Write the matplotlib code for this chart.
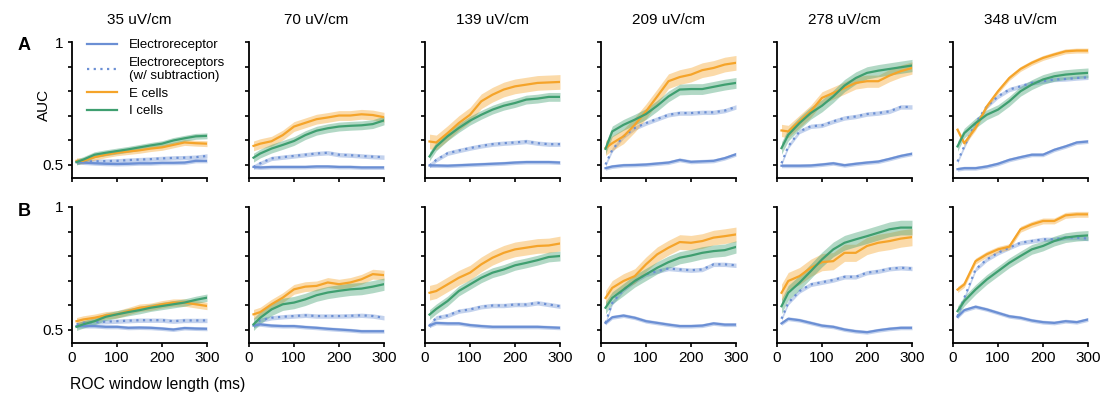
import numpy as np
import matplotlib
matplotlib.use("Agg")
import matplotlib.pyplot as plt

plt.rcParams['font.family'] = ['Liberation Sans', 'DejaVu Sans']

# ROC window length (ms)
x = [10, 25, 50, 75, 100, 125, 150, 175, 200, 225, 250, 275, 300]
titles = ['35 uV/cm', '70 uV/cm', '139 uV/cm', '209 uV/cm', '278 uV/cm', '348 uV/cm']

# row A
er_A = [
    [0.51, 0.508, 0.505, 0.503, 0.502, 0.503, 0.505, 0.505, 0.507, 0.507, 0.508, 0.515, 0.515],
    [0.49, 0.488, 0.49, 0.49, 0.49, 0.49, 0.492, 0.492, 0.49, 0.49, 0.488, 0.488, 0.488],
    [0.496, 0.496, 0.495, 0.497, 0.499, 0.501, 0.503, 0.505, 0.508, 0.51, 0.51, 0.51, 0.508],
    [0.485, 0.492, 0.497, 0.498, 0.5, 0.504, 0.508, 0.519, 0.511, 0.513, 0.515, 0.526, 0.542],
    [0.495, 0.495, 0.495, 0.496, 0.5, 0.505, 0.497, 0.503, 0.508, 0.512, 0.523, 0.535, 0.544],
    [0.481, 0.485, 0.485, 0.492, 0.503, 0.519, 0.53, 0.54, 0.54, 0.56, 0.574, 0.59, 0.594],
]
ers_A = [
    [0.51, 0.512, 0.513, 0.514, 0.515, 0.518, 0.52, 0.522, 0.525, 0.527, 0.528, 0.53, 0.535],
    [0.49, 0.505, 0.525, 0.53, 0.535, 0.54, 0.545, 0.548, 0.54, 0.538, 0.535, 0.532, 0.53],
    [0.496, 0.519, 0.546, 0.557, 0.567, 0.576, 0.583, 0.587, 0.59, 0.594, 0.587, 0.583, 0.583],
    [0.5, 0.56, 0.615, 0.649, 0.669, 0.686, 0.703, 0.71, 0.71, 0.713, 0.713, 0.72, 0.735],
    [0.505, 0.574, 0.635, 0.656, 0.66, 0.676, 0.69, 0.696, 0.706, 0.71, 0.717, 0.735, 0.735],
    [0.512, 0.574, 0.669, 0.737, 0.778, 0.806, 0.819, 0.833, 0.84, 0.847, 0.849, 0.853, 0.856],
]
e_A = [
    [0.515, 0.515, 0.53, 0.54, 0.548, 0.553, 0.558, 0.565, 0.57, 0.58, 0.59, 0.587, 0.585],
    [0.576, 0.585, 0.595, 0.62, 0.655, 0.67, 0.685, 0.692, 0.70, 0.70, 0.705, 0.702, 0.693],
    [0.594, 0.59, 0.628, 0.669, 0.703, 0.758, 0.785, 0.806, 0.819, 0.826, 0.833, 0.835, 0.837],
    [0.567, 0.587, 0.615, 0.662, 0.717, 0.778, 0.84, 0.857, 0.867, 0.885, 0.894, 0.908, 0.915],
    [0.639, 0.635, 0.676, 0.717, 0.772, 0.792, 0.812, 0.833, 0.84, 0.84, 0.863, 0.881, 0.894],
    [0.642, 0.587, 0.649, 0.737, 0.799, 0.853, 0.89, 0.915, 0.935, 0.949, 0.962, 0.965, 0.965],
]
i_A = [
    [0.51, 0.52, 0.54, 0.548, 0.555, 0.562, 0.57, 0.578, 0.585, 0.598, 0.607, 0.615, 0.617],
    [0.528, 0.545, 0.565, 0.58, 0.596, 0.62, 0.638, 0.648, 0.655, 0.658, 0.66, 0.665, 0.68],
    [0.533, 0.574, 0.615, 0.649, 0.679, 0.703, 0.724, 0.74, 0.751, 0.765, 0.769, 0.776, 0.776],
    [0.564, 0.635, 0.662, 0.683, 0.706, 0.74, 0.778, 0.806, 0.808, 0.808, 0.817, 0.826, 0.833],
    [0.567, 0.621, 0.669, 0.71, 0.74, 0.778, 0.822, 0.853, 0.874, 0.883, 0.89, 0.897, 0.904],
    [0.574, 0.628, 0.669, 0.703, 0.724, 0.758, 0.799, 0.826, 0.847, 0.86, 0.867, 0.871, 0.874],
]

# row B
er_B = [
    [0.514, 0.514, 0.514, 0.511, 0.511, 0.507, 0.508, 0.507, 0.504, 0.5, 0.506, 0.504, 0.503],
    [0.516, 0.521, 0.516, 0.514, 0.514, 0.51, 0.507, 0.503, 0.5, 0.497, 0.493, 0.493, 0.493],
    [0.516, 0.527, 0.525, 0.525, 0.518, 0.514, 0.511, 0.511, 0.511, 0.511, 0.511, 0.509, 0.507],
    [0.527, 0.55, 0.557, 0.548, 0.534, 0.527, 0.52, 0.514, 0.514, 0.516, 0.525, 0.52, 0.52],
    [0.525, 0.544, 0.538, 0.527, 0.516, 0.511, 0.5, 0.493, 0.489, 0.497, 0.503, 0.507, 0.507],
    [0.552, 0.579, 0.593, 0.582, 0.568, 0.554, 0.548, 0.537, 0.53, 0.527, 0.534, 0.53, 0.541],
]
ers_B = [
    [0.521, 0.527, 0.53, 0.532, 0.534, 0.536, 0.538, 0.538, 0.538, 0.534, 0.537, 0.537, 0.537],
    [0.516, 0.538, 0.548, 0.552, 0.555, 0.558, 0.555, 0.555, 0.555, 0.556, 0.558, 0.555, 0.548],
    [0.516, 0.548, 0.557, 0.575, 0.582, 0.593, 0.598, 0.598, 0.602, 0.602, 0.609, 0.602, 0.595],
    [0.527, 0.609, 0.663, 0.698, 0.725, 0.738, 0.749, 0.745, 0.742, 0.745, 0.766, 0.766, 0.762],
    [0.544, 0.609, 0.657, 0.684, 0.693, 0.702, 0.715, 0.715, 0.732, 0.738, 0.748, 0.752, 0.749],
    [0.554, 0.629, 0.745, 0.786, 0.813, 0.834, 0.854, 0.861, 0.868, 0.868, 0.875, 0.875, 0.871],
]
e_B = [
    [0.534, 0.541, 0.548, 0.558, 0.562, 0.575, 0.589, 0.593, 0.603, 0.61, 0.61, 0.603, 0.596],
    [0.562, 0.571, 0.603, 0.63, 0.664, 0.675, 0.678, 0.692, 0.685, 0.692, 0.705, 0.726, 0.722],
    [0.65, 0.657, 0.684, 0.711, 0.732, 0.766, 0.793, 0.813, 0.827, 0.834, 0.841, 0.843, 0.851],
    [0.629, 0.67, 0.698, 0.718, 0.766, 0.807, 0.834, 0.857, 0.854, 0.861, 0.875, 0.881, 0.888],
    [0.65, 0.698, 0.718, 0.752, 0.775, 0.779, 0.813, 0.813, 0.841, 0.854, 0.861, 0.871, 0.877],
    [0.663, 0.684, 0.779, 0.807, 0.827, 0.838, 0.909, 0.929, 0.943, 0.943, 0.966, 0.97, 0.97],
]
i_B = [
    [0.511, 0.521, 0.534, 0.552, 0.562, 0.571, 0.579, 0.589, 0.596, 0.603, 0.61, 0.621, 0.63],
    [0.521, 0.548, 0.582, 0.603, 0.61, 0.623, 0.64, 0.651, 0.658, 0.664, 0.667, 0.675, 0.685],
    [0.561, 0.584, 0.616, 0.657, 0.684, 0.711, 0.732, 0.745, 0.762, 0.772, 0.783, 0.796, 0.8],
    [0.589, 0.629, 0.663, 0.698, 0.725, 0.752, 0.775, 0.793, 0.802, 0.813, 0.82, 0.824, 0.837],
    [0.595, 0.65, 0.691, 0.738, 0.786, 0.827, 0.854, 0.868, 0.881, 0.895, 0.909, 0.916, 0.916],
    [0.575, 0.616, 0.663, 0.704, 0.738, 0.772, 0.8, 0.827, 0.841, 0.861, 0.875, 0.881, 0.884],
]

# half width of the shaded bands (per panel)
e_err = [[0.012, 0.02, 0.03, 0.03, 0.025, 0.01], [0.015, 0.02, 0.03, 0.03, 0.035, 0.012]]
i_err = [[0.012, 0.018, 0.018, 0.022, 0.025, 0.02], [0.015, 0.025, 0.02, 0.025, 0.03, 0.02]]
er_err = [0.008, 0.008]
ers_err = [0.009, 0.009]

c_blue = '#6b8fd4'
c_orange = '#f5a42a'
c_green = '#3f9f70'

rows = [(er_A, ers_A, e_A, i_A), (er_B, ers_B, e_B, i_B)]

fig = plt.figure(figsize=(11.02, 4.0), dpi=100)
W, H = 1102.0, 400.0
lefts = [72, 249, 425, 601, 777, 953]
tops = [42, 207]
pw, ph = 135, 136

xa = np.array(x)
for r in range(2):
    er, ers, ee, ii = rows[r]
    for c in range(6):
        ax = fig.add_axes([lefts[c] / W, 1 - (tops[r] + ph) / H, pw / W, ph / H])
        series = [
            (er[c], er_err[r], c_blue, '-', 'Electroreceptor'),
            (ers[c], ers_err[r], c_blue, (0, (1, 2)), 'Electroreceptors\n(w/ subtraction)'),
            (ee[c], e_err[r][c], c_orange, '-', 'E cells'),
            (ii[c], i_err[r][c], c_green, '-', 'I cells'),
        ]
        for vals, err, col, ls, lab in series:
            v = np.array(vals)
            ax.fill_between(xa, v - err, v + err, color=col, alpha=0.4, lw=0)
            ax.plot(xa, v, color=col, ls=ls, lw=1.6, label=lab)
        ax.set_xlim(0, 300)
        ax.set_ylim(0.445, 1.0)
        ax.set_xticks([0, 100, 200, 300])
        ax.set_yticks([0.5, 0.6, 0.7, 0.8, 0.9, 1.0])
        for s in ['top', 'right']:
            ax.spines[s].set_visible(False)
        for s in ['left', 'bottom']:
            ax.spines[s].set_linewidth(1.3)
        ax.tick_params(direction='out', length=3, width=1.2, labelsize=11, pad=3)
        if c == 0:
            ax.set_yticklabels(['0.5', '', '', '', '', '1'])
        else:
            ax.set_yticklabels([])
        if r == 0:
            ax.set_xticklabels([])
            ax.set_title(titles[c], fontsize=11, pad=13)
        if r == 0 and c == 0:
            ax.set_ylabel('AUC', fontsize=11)
            ax.yaxis.set_label_coords(-0.155, 0.54)
            ax.legend(loc='upper left', bbox_to_anchor=(0.07, 1.06), frameon=False,
                      fontsize=9.5, handlelength=2.3, handletextpad=0.9,
                      labelspacing=0.4, borderaxespad=0)

fig.text(18 / W, 1 - 45 / H, 'A', fontsize=13, fontweight='bold', va='center')
fig.text(18 / W, 1 - 211 / H, 'B', fontsize=13, fontweight='bold', va='center')
fig.text(70 / W, 1 - 385 / H, 'ROC window length (ms)', fontsize=11.3, va='center')

fig.savefig('out.png', dpi=100)
